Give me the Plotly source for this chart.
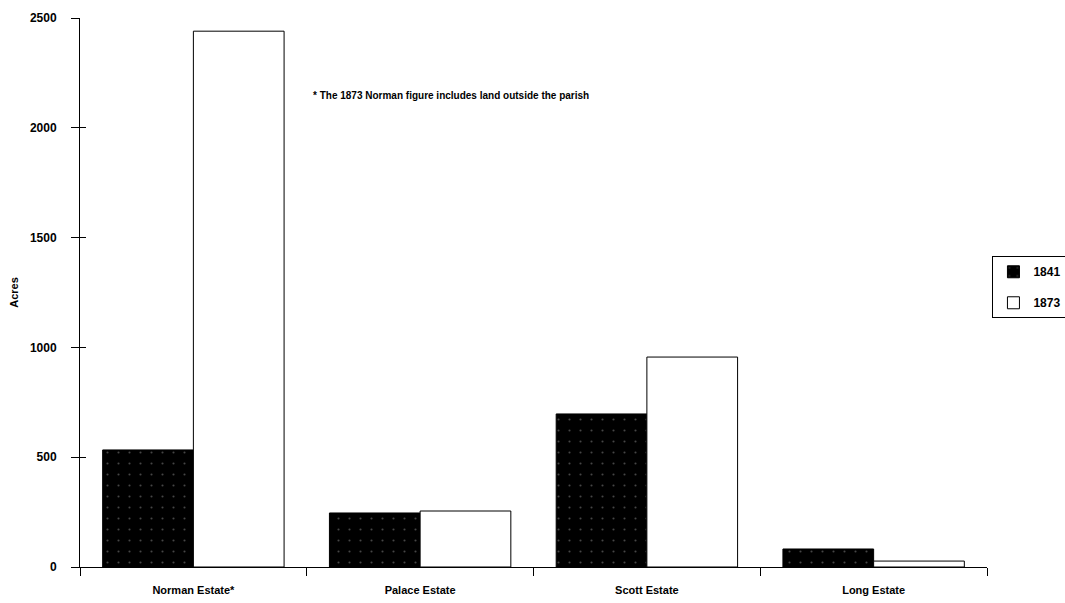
import plotly.graph_objects as go

# Estate land holdings (acres)
estates = ["Norman Estate*", "Palace Estate", "Scott Estate", "Long Estate"]
acres_1841 = [533, 246, 697, 82]
acres_1873 = [2440, 255, 956, 27]
y_ticks = [0, 500, 1000, 1500, 2000, 2500]

FAMILY = "Liberation Sans, Arial, sans-serif"
font_main = dict(family=FAMILY, size=11, color="black", weight="bold")

fig = go.Figure()
fig.add_trace(go.Bar(
    name="1841", x=estates, y=acres_1841, legendgroup="a",
    marker=dict(color="black", line=dict(color="black", width=1),
                pattern=dict(shape=".", fgcolor="#8c8c8c", bgcolor="black",
                             size=11, solidity=0.03, fillmode="overlay")),
))
fig.add_trace(go.Bar(
    name="1873", x=estates, y=acres_1873, legendgroup="b",
    marker=dict(color="white", line=dict(color="black", width=1)),
))
# invisible trace carrying the inner half of the crossing y ticks
fig.add_trace(go.Scatter(x=[estates[0]], y=[0], yaxis="y2", mode="markers",
                         marker=dict(opacity=0), showlegend=False, hoverinfo="skip"))

fig.update_layout(
    width=1065, height=603,
    margin=dict(l=80, r=78, t=18, b=36, autoexpand=False),
    plot_bgcolor="white", paper_bgcolor="white",
    barmode="group", bargap=0.2, bargroupgap=0,
    font=font_main,
    showlegend=True,
    legend=dict(x=1.006, y=0.566, xanchor="left", yanchor="top",
                bordercolor="black", borderwidth=1, bgcolor="white",
                font=dict(family=FAMILY, size=12, color="black", weight="bold"),
                itemwidth=30, tracegroupgap=12),
    xaxis=dict(
        showline=True, linecolor="black", linewidth=1,
        ticks="outside", ticklen=8, tickcolor="black", tickwidth=1,
        tickson="boundaries", showgrid=False, zeroline=False,
        tickfont=font_main, ticklabelstandoff=13,
    ),
    yaxis=dict(
        range=[0, 2500], tickvals=y_ticks,
        showline=True, linecolor="black", linewidth=1,
        ticks="outside", ticklen=8, tickcolor="black", tickwidth=1,
        showgrid=False, zeroline=False,
        tickfont=dict(family=FAMILY, size=12, color="black", weight="bold"),
        ticklabelstandoff=12,
        title=dict(text="Acres", font=font_main, standoff=9),
    ),
    yaxis2=dict(
        range=[0, 2500], tickvals=y_ticks, overlaying="y", side="left",
        ticks="inside", ticklen=6, tickcolor="black", tickwidth=1,
        showticklabels=False, showgrid=False, zeroline=False, showline=False,
    ),
    annotations=[dict(
        text="* The 1873 Norman figure includes land outside the parish",
        xref="paper", yref="paper", x=0.255, y=0.858,
        xanchor="left", yanchor="middle", showarrow=False,
        font=dict(family=FAMILY, size=10, color="black", weight="bold"),
    )],
)

fig.write_html("out.html")
